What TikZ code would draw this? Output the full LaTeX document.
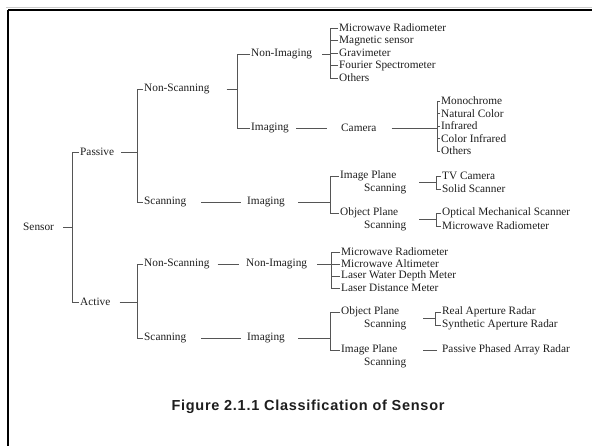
\documentclass[tikz,border=0pt]{standalone}
\usepackage{fontspec}
\setmainfont{Liberation Serif}
\newfontfamily\capfont[LetterSpace=5]{Liberation Sans}
\usetikzlibrary{calc}
\definecolor{linegray}{RGB}{85,85,85}
\definecolor{txt}{RGB}{30,30,30}
\tikzset{
  lbl/.style={anchor=west,inner sep=1pt,text=txt,font=\fontsize{11.3}{13}\selectfont},
  conn/.style={draw=linegray,line width=0.8pt}
}
\begin{document}
\begin{tikzpicture}[x=1pt,y=-1pt]
	\useasboundingbox (0,0) rectangle (592,446);
	\fill[white] (0,0) rectangle (592,446);
	\draw[gray!40,line width=1pt] (6,7.5) -- (592,7.5);
	\draw[black,line width=2.6pt] (8,10) -- (592,10);
	\draw[black,line width=2.6pt] (8,10) -- (8,446);

	% root and first level
	\node[lbl] (sensor) at (22,227) {Sensor};
	\node[lbl] (passive) at (79,152) {Passive};
	\node[lbl] (active) at (79,302) {Active};

	% passive branch
	\node[lbl] (nsP) at (143,89) {Non-Scanning};
	\node[lbl] (scP) at (143,202) {Scanning};
	\node[lbl] (niP) at (250,54) {Non-Imaging};
	\node[lbl] (imP) at (250,128) {Imaging};
	\node[lbl] (camera) at (340,128) {Camera};
	\node[lbl] (imPS) at (246,202) {Imaging};

	\node[lbl] (mwP) at (338,28) {Microwave Radiometer};
	\node[lbl] (mag) at (338,40.5) {Magnetic sensor};
	\node[lbl] (grav) at (338,53) {Gravimeter};
	\node[lbl] (four) at (338,65.5) {Fourier Spectrometer};
	\node[lbl] (othP) at (338,78) {Others};

	\node[lbl] (mono) at (440,101) {Monochrome};
	\node[lbl] (natc) at (440,113.5) {Natural Color};
	\node[lbl] (infr) at (440,126) {Infrared};
	\node[lbl] (cinf) at (440,138.5) {Color Infrared};
	\node[lbl] (othC) at (440,151) {Others};

	\node[lbl] (ipP) at (339,176) {Image Plane};
	\node[lbl] (ipPs) at (363,189) {Scanning};
	\node[lbl] (opP) at (339,213) {Object Plane};
	\node[lbl] (opPs) at (363,226) {Scanning};
	\node[lbl] (tv) at (441,176) {TV Camera};
	\node[lbl] (solid) at (441,189) {Solid Scanner};
	\node[lbl] (oms) at (441,213) {Optical Mechanical Scanner};
	\node[lbl] (mwrP) at (441,226) {Microwave Radiometer};

	% active branch
	\node[lbl] (nsA) at (143,264) {Non-Scanning};
	\node[lbl] (niA) at (245,264) {Non-Imaging};
	\node[lbl] (scA) at (143,338) {Scanning};
	\node[lbl] (imA) at (246,338) {Imaging};

	\node[lbl] (mwA) at (340,252) {Microwave Radiometer};
	\node[lbl] (alt) at (340,264) {Microwave Altimeter};
	\node[lbl] (lwd) at (340,276) {Laser Water Depth Meter};
	\node[lbl] (ldm) at (340,288) {Laser Distance Meter};

	\node[lbl] (opA) at (340,312) {Object Plane};
	\node[lbl] (opAs) at (363,325) {Scanning};
	\node[lbl] (ipA) at (340,350) {Image Plane};
	\node[lbl] (ipAs) at (363,363) {Scanning};
	\node[lbl] (rar) at (441,312) {Real Aperture Radar};
	\node[lbl] (sar) at (441,325) {Synthetic Aperture Radar};
	\node[lbl] (ppar) at (441,350) {Passive Phased Array Radar};

	% brackets
	\draw[conn] (passive.west) -- ++(-7,0) |- (active.west);
	\draw[conn] ([xshift=8pt]sensor.east) -- ($(passive.west |- sensor.east)+(-7,0)$);

	\draw[conn] (nsP.west) -- ++(-6,0) |- (scP.west);
	\draw[conn] ([xshift=6pt]passive.east) -- ($(nsP.west |- passive.east)+(-6,0)$);
	\draw[conn] (nsA.west) -- ++(-6,0) |- (scA.west);
	\draw[conn] ([xshift=8pt]active.east) -- ($(nsA.west |- active.east)+(-6,0)$);

	\draw[conn] (niP.west) -- ++(-13,0) |- (imP.west);
	\draw[conn] ([xshift=16pt]nsP.east) -- ($(niP.west |- nsP.east)+(-13,0)$);

	\draw[conn] (mwP.west) -- ++(-8,0) |- (othP.west);
	\foreach \n in {mag,grav,four} \draw[conn] (\n.west) -- ++(-8,0);
	\draw[conn] ([xshift=9pt]niP.east) -- ($(mwP.west |- niP.east)+(-8,0)$);

	\draw[conn] ([xshift=6pt]imP.east) -- ([xshift=-13pt]camera.west);
	\draw[conn] (mono.west) -- ++(-3,0) |- (othC.west);
	\foreach \n in {natc,infr,cinf} \draw[conn] (\n.west) -- ++(-3,0);
	\draw[conn] ([xshift=14pt]camera.east) -- ($(mono.west |- camera.east)+(-3,0)$);

	\draw[conn] ([xshift=14pt]scP.east) -- ([xshift=-5pt]imPS.west);
	\draw[conn] (ipP.west) -- ++(-9,0) |- (opP.west);
	\draw[conn] ([xshift=12pt]imPS.east) -- ($(ipP.west |- imPS.east)+(-9,0)$);

	\draw[conn] (tv.west) -- ++(-5,0) |- (solid.west);
	\draw[conn] ($(tv.west)!0.5!(solid.west)+(-5,0)$) -- ++(-17,0);
	\draw[conn] (oms.west) -- ++(-5,0) |- (mwrP.west);
	\draw[conn] ($(oms.west)!0.5!(mwrP.west)+(-5,0)$) -- ++(-17,0);

	\draw[conn] ([xshift=7pt]nsA.east) -- ([xshift=-6pt]niA.west);
	\draw[conn] (mwA.west) -- ++(-9,0) |- (ldm.west);
	\foreach \n in {alt,lwd} \draw[conn] (\n.west) -- ++(-9,0);
	\draw[conn] ([xshift=9pt]niA.east) -- ($(mwA.west |- niA.east)+(-9,0)$);

	\draw[conn] ([xshift=14pt]scA.east) -- ([xshift=-5pt]imA.west);
	\draw[conn] (opA.west) -- ++(-10,0) |- (ipA.west);
	\draw[conn] ([xshift=12pt]imA.east) -- ($(opA.west |- imA.east)+(-10,0)$);

	\draw[conn] (rar.west) -- ++(-6,0) |- (sar.west);
	\draw[conn] ($(rar.west)!0.5!(sar.west)+(-6,0)$) -- ++(-12,0);
	\draw[conn] ([xshift=-4pt]ppar.west) -- ++(-14,0);

	% caption
	\node[inner sep=0pt,text=txt,font=\capfont\bfseries\fontsize{14.5}{17}\selectfont] (caption) at (308,407) {Figure 2.1.1 Classification of Sensor};
\end{tikzpicture}
\end{document}
